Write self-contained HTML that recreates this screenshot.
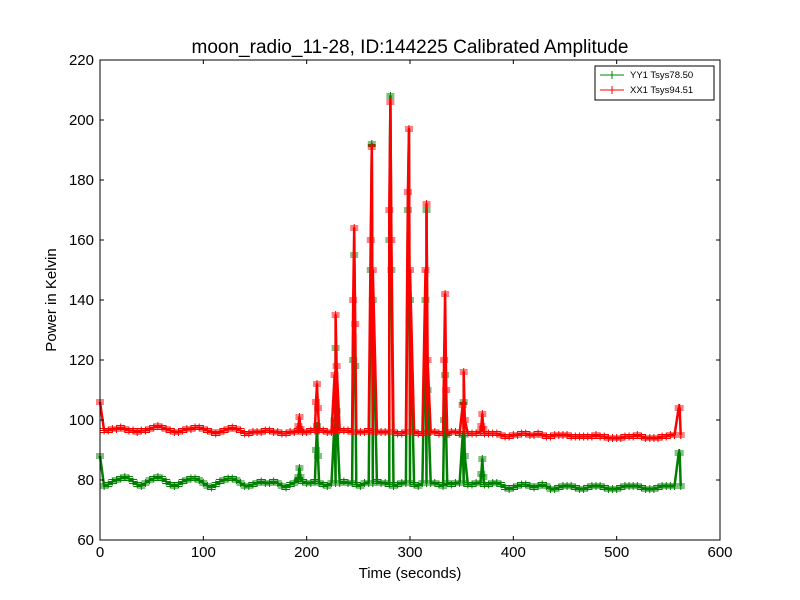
<!DOCTYPE html>
<html><head><meta charset="utf-8"><style>
body{margin:0;background:#fff;}
svg{display:block;font-family:"Liberation Sans","DejaVu Sans",sans-serif;}
</style></head><body>
<svg id="chart" width="800" height="600" xmlns="http://www.w3.org/2000/svg">
<rect width="800" height="600" fill="#fff"/>
<text x="410" y="53" text-anchor="middle" font-size="19">moon_radio_11-28, ID:144225 Calibrated Amplitude</text>
<g id="plot"></g>
<g id="axes"></g>
<text x="410" y="578" text-anchor="middle" font-size="15">Time (seconds)</text>
<text transform="translate(56,300) rotate(-90)" text-anchor="middle" font-size="15">Power in Kelvin</text>
<g>
<rect x="595" y="66" width="119" height="34" fill="#fff" stroke="#000" stroke-width="1"/>
<g>
<line x1="600" y1="75" x2="624" y2="75" stroke="green"/><line x1="612" y1="71" x2="612" y2="79" stroke="green"/><line x1="608" y1="75" x2="616" y2="75" stroke="green"/>
<text x="630" y="78" font-size="9.5">YY1 Tsys78.50</text></g>
<g>
<line x1="600" y1="90" x2="624" y2="90" stroke="red"/><line x1="612" y1="86" x2="612" y2="94" stroke="red"/>
<text x="630" y="93" font-size="9.5">XX1 Tsys94.51</text></g>
</g>
</svg>
<script>
const baseTimesStart = 0, baseTimesStep = 4;
const baseYY = [88,78,78.5,79.5,80,80.5,81,80.5,79.5,78.5,78,79,80,80.5,81,80.5,79.5,78.5,78,78.5,79.5,80,80.5,80.5,80,79,78,77.5,78.5,79.5,80,80.5,80.5,80,79,78,78,78.5,79,79.5,79,79,79.5,79,78,77.5,78.5,79,80,79.5,79,79,79.5,79,78.5,78,79,79,79,79.5,79,79,78.5,78,79,79,79,79.5,79,79,78.5,78,78.5,79,79,79,78.5,78,79,79,79,79,78.5,78,79,78.5,79,79,79,78.5,78.5,79,79,78.5,78.5,79,79,78.5,77.5,77,77.5,78,78.5,78.5,78,77.5,78,78.5,78,77,77,77.5,78,78,78,77.5,77,77,77.5,78,78,78,77.5,77,77,77,77.5,78,78,78,78,77.5,77,77,77,77.5,78,78,78,78,89];
const baseXX = [106,96.5,96.5,97,97,97.5,97,96.5,96.5,96,96.5,96.5,97,97.5,98,97.5,97,96.5,96,96,96.5,97,97,97.5,97.5,97,96.5,96,95.5,96,96.5,97,97.5,97,96.5,95.5,95.5,96,96,96,96.5,96.5,96,96,95.5,95.5,96,96,96.5,96,96,96.5,96.5,96.5,96.5,96,96,96.5,96.5,96.5,96.5,96,96,96,96,96.5,96,96,96,96,96,96,95.5,95.5,96,96,96,95.5,95.5,96,96,96,95.5,95.5,95.5,96,96,95.5,95.5,95.5,95.5,95.5,96,95.5,95.5,95.5,95.5,95,94.5,94.5,95,95,95.5,95.5,95,95,95.5,95,94.5,94.5,95,95,95,95,94.5,94.5,94.5,94.5,94.5,94.5,95,94.5,94.5,94,94,94,94,94.5,94.5,94.5,95,94.5,94,94,94,94,94.5,94.5,95,95,104];
const peakT  = [192,193,194,209,210,211,227,228,229,245,246,247,262,263,264,280,281,282,298,299,300,315,316,317,333,334,335,351,352,353,369,370,371,561,562];
const peakYY = [81,84,81,90,98,88,100,124,103,120,155,118,150,192,140,160,208,150,170,197,140,140,170,110,100,115,95,95,106,88,82,87,81,89,78];
const peakXX = [98,101,97,106,112,104,115,135,118,140,164,132,160,191,150,170,206,160,176,197,150,150,172,120,120,142,110,105,116,100,98,102,97,104,95];
const xTicks = [0,100,200,300,400,500,600];
const yTicks = [60,80,100,120,140,160,180,200,220];

const L=100,R=720,T=60,B=540;
const xs = v => L + (v-0)/(600-0)*(R-L);
const ys = v => B - (v-60)/(220-60)*(B-T);
const NS="http://www.w3.org/2000/svg";
function mk(tag,attrs,parent){const e=document.createElementNS(NS,tag);for(const k in attrs)e.setAttribute(k,attrs[k]);parent.appendChild(e);return e;}

function series(vals,pv){
  const pts=[];
  vals.forEach((v,i)=>pts.push([baseTimesStart+i*baseTimesStep,v]));
  peakT.forEach((t,i)=>pts.push([t,pv[i]]));
  pts.sort((a,b)=>a[0]-b[0]);
  return pts;
}
const plot=document.getElementById('plot');
function draw(pts,color,name){
  const g=mk('g',{},plot);
  
  
  const line=mk('polyline',{points:pts.map(p=>xs(p[0]).toFixed(1)+','+ys(p[1]).toFixed(1)).join(' '),fill:'none',stroke:color,'stroke-width':2.5,'stroke-linejoin':'round'},g);
  
  
  let d='';
  pts.forEach(p=>{const x=xs(p[0]),y=ys(p[1]);d+=`M${x-4},${y}h8M${x},${y-4}v8M${x-4},${y-2}h8M${x-4},${y+2}h8`;});
  const m=mk('path',{d:d,stroke:color,'stroke-width':1,fill:'none'},g);
  
  
}
draw(series(baseYY,peakYY),'green','series-yy1');
draw(series(baseXX,peakXX),'red','series-xx1');

const ax=document.getElementById('axes');
mk('rect',{x:L,y:T,width:R-L,height:B-T,fill:'none',stroke:'#000','stroke-width':1},ax);
xTicks.forEach(v=>{
  const x=xs(v);
  mk('line',{x1:x,y1:B,x2:x,y2:B-4,stroke:'#000'},ax);
  mk('line',{x1:x,y1:T,x2:x,y2:T+4,stroke:'#000'},ax);
  const t=mk('text',{x:x,y:B+17,'text-anchor':'middle','font-size':15},ax);
  t.textContent=v;
  
  
});
yTicks.forEach(v=>{
  const y=ys(v);
  mk('line',{x1:L,y1:y,x2:L+4,y2:y,stroke:'#000'},ax);
  mk('line',{x1:R,y1:y,x2:R-4,y2:y,stroke:'#000'},ax);
  const t=mk('text',{x:L-6,y:y+5,'text-anchor':'end','font-size':15},ax);
  t.textContent=v;
  
  
});
</script>
</body></html>
